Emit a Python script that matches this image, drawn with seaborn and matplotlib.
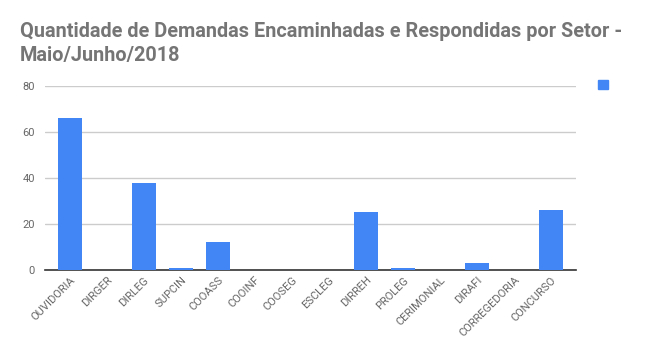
import matplotlib
matplotlib.use("Agg")
import matplotlib.pyplot as plt
import matplotlib.patches as mpatches
import seaborn as sns
import pandas as pd

setores = ["OUVIDORIA", "DIRGER", "DIRLEG", "SUPCIN", "COOASS", "COOINF", "COOSEG",
           "ESCLEG", "DIRREH", "PROLEG", "CERIMONIAL", "DIRAFI", "CORREGEDORIA", "CONCURSO"]
demandas = [66, 0, 38, 1, 12, 0, 0, 0, 25, 1, 0, 3, 0, 26]
y_ticks = [0, 20, 40, 60, 80]

df = pd.DataFrame({"setor": setores, "demandas": demandas})

sns.set_style("white")
plt.rcParams["font.family"] = ["Roboto", "DejaVu Sans"]

fig = plt.figure(figsize=(6.57, 3.61), dpi=100)
ax = fig.add_axes([0.068, 0.252, 0.809, 0.51])

sns.barplot(data=df, x="setor", y="demandas", color="#4285F4", saturation=1,
            width=0.65, ax=ax, zorder=3, linewidth=0)

ax.set_ylim(0, 80)
ax.set_xlim(-0.68, len(setores) - 0.32)
ax.set_yticks(y_ticks)
ax.yaxis.grid(True, color="#cccccc", linewidth=1)
ax.set_axisbelow(True)
for s in ["top", "right", "left"]:
    ax.spines[s].set_visible(False)
ax.spines["bottom"].set_color("#333333")
ax.spines["bottom"].set_linewidth(1.2)
ax.spines["bottom"].set_zorder(2)
ax.set_xlabel("")
ax.set_ylabel("")
ax.tick_params(axis="both", length=0, labelsize=8, colors="#666666")
ax.tick_params(axis="y", pad=7)
plt.setp(ax.get_xticklabels(), rotation=45, ha="right", rotation_mode="anchor")

fig.text(0.03, 0.94, "Quantidade de Demandas Encaminhadas e Respondidas por Setor -\nMaio/Junho/2018",
         fontsize=14.3, fontweight="bold", color="#757575", ha="left", va="top",
         linespacing=1.35)

handle = mpatches.Patch(color="#4285F4", label=" ")
fig.legend(handles=[handle], loc="center left", bbox_to_anchor=(0.895, 0.765),
           frameon=False, handlelength=0.9, handleheight=0.9, fontsize=8)

fig.savefig("out.png", dpi=100)
